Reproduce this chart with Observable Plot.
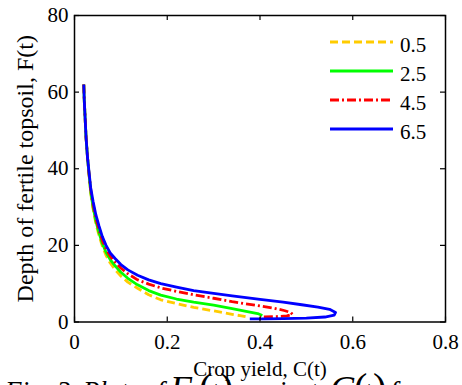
<!DOCTYPE html>
<html>
<head>
<meta charset="utf-8">
<script src="https://cdn.jsdelivr.net/npm/d3@7"></script>
<script src="https://cdn.jsdelivr.net/npm/@observablehq/plot@0.6"></script>
<style>
  html, body { margin: 0; padding: 0; background: white; }
  #wrap { position: relative; width: 462px; height: 385px; overflow: hidden; background: white;
          font-family: "Liberation Serif", "Times New Roman", serif; color: black; }
  #wrap svg.plot { overflow: visible; }
  .leg { position: absolute; font-size: 21px; line-height: 1; }
  .cap { position: absolute; font-style: italic; line-height: 1; white-space: pre; }
</style>
</head>
<body>
<div id="wrap"></div>
<script>
// ---- data ----
const seriesNames = ["0.5", "2.5", "4.5", "6.5"];
const seriesColors = ["#ffcc00", "#00ff00", "#ff0000", "#0000ff"];
const seriesDash = ["8,4", null, "9,3,2,3", null];

const c05 = [0.020,0.021,0.023,0.025,0.028,0.031,0.035,0.040,0.046,0.053,0.060,0.068,0.077,0.088,0.100,0.115,0.136,0.160,0.186,0.220,0.257,0.300,0.340,0.360,0.376];
const f05 = [62,58,53,48,43,39,33.5,29.5,25.8,22.5,19.8,17.4,15.4,13.6,12.0,10.4,8.8,7.1,5.8,4.8,3.8,2.9,2.0,1.6,1.2];

const c25 = [0.020,0.021,0.023,0.025,0.028,0.031,0.035,0.040,0.046,0.053,0.060,0.068,0.077,0.088,0.100,0.115,0.136,0.160,0.186,0.220,0.257,0.300,0.340,0.370,0.395,0.405];
const f25 = [62,58,53,48,43,39,34,30,26.4,23.2,20.5,18.2,16.3,14.6,13.0,11.4,9.7,8.2,7.0,6.0,5.2,4.4,3.5,2.8,2.2,1.7];

const c45 = [0.020,0.021,0.023,0.025,0.028,0.031,0.035,0.040,0.046,0.053,0.060,0.068,0.077,0.088,0.100,0.115,0.136,0.160,0.186,0.220,0.257,0.300,0.340,0.400,0.430,0.452,0.466,0.470,0.458,0.435,0.400];
const f45 = [62,58,53,48,43,39,34.5,30.8,27.2,24,21.3,19,17.2,15.6,14.1,12.6,11.0,9.9,8.9,8.0,7.1,6.2,5.3,4.2,3.6,3.0,2.5,2.0,1.6,1.4,1.3];

const c65 = [0.020,0.021,0.023,0.025,0.028,0.031,0.035,0.040,0.046,0.053,0.060,0.068,0.077,0.088,0.100,0.115,0.136,0.160,0.186,0.220,0.257,0.300,0.340,0.400,0.450,0.490,0.525,0.550,0.563,0.560,0.540,0.500,0.450,0.410,0.378];
const f65 = [62,58,53,48,43,39.5,35,31.5,28,25,22.3,20,18,16.5,15,13.6,12.2,11.0,10.0,9.1,8.2,7.5,6.8,5.9,5.2,4.5,3.9,3.3,2.5,1.8,1.3,1.0,0.9,0.8,0.8];

const xTicks = [0, 0.2, 0.4, 0.6, 0.8];
const xTickLabels = ["0", "0.2", "0.4", "0.6", "0.8"];
const yTicks = [0, 20, 40, 60, 80];
const yTickLabels = ["0", "20", "40", "60", "80"];
const xLabel = "Crop yield, C(t)";
const yLabel = "Depth of fertile topsoil, F(t)";

// ---- build table ----
const allC = [c05, c25, c45, c65];
const allF = [f05, f25, f45, f65];
const series = seriesNames.map((name, k) => allC[k].map((c, i) => ({name, c, f: allF[k][i]})));

const W = 462, H = 370;
const mL = 74, mR = 17, mT = 15, mB = 48.5;
const fw = W - mL - mR, fh = H - mT - mB;
const serif = "'Liberation Serif', 'Times New Roman', serif";

const chart = Plot.plot({
  width: W, height: H,
  marginLeft: mL, marginRight: mR, marginTop: mT, marginBottom: mB,
  x: {domain: [0, 0.8]},
  y: {domain: [0, 80]},
  style: {fontFamily: serif, fontSize: "21px", color: "black", background: "white", overflow: "visible"},
  marks: [
    ...series.map((data, k) => Plot.line(data, {
      x: "c", y: "f", stroke: seriesColors[k], strokeWidth: 2.8,
      strokeDasharray: seriesDash[k], strokeLinejoin: "round", strokeLinecap: "butt"
    })),
    Plot.frame({stroke: "black", strokeWidth: 1.5}),
    Plot.ruleX(xTicks, {x: d => d, insetTop: fh - 5, stroke: "black", strokeWidth: 1.2}),
    Plot.ruleX(xTicks, {x: d => d, insetBottom: fh - 5, stroke: "black", strokeWidth: 1.2}),
    Plot.ruleY(yTicks, {y: d => d, insetRight: fw - 5, stroke: "black", strokeWidth: 1.2}),
    Plot.ruleY(yTicks, {y: d => d, insetLeft: fw - 5, stroke: "black", strokeWidth: 1.2}),
    Plot.axisX(xTicks, {tickSize: 0, tickPadding: 12, tickFormat: d => xTickLabels[xTicks.indexOf(d)], label: null, fontSize: 21, fontFamily: serif}),
    Plot.axisY(yTicks, {tickSize: 0, tickPadding: 6, tickFormat: d => yTickLabels[yTicks.indexOf(d)], label: null, fontSize: 21, fontFamily: serif}),
    Plot.text([xLabel], {text: d => d, frameAnchor: "bottom", dy: 53.5, lineAnchor: "bottom", textAnchor: "middle", fontSize: 21, fontFamily: serif}),
    Plot.text([yLabel], {text: d => d, frameAnchor: "left", dx: -42, rotate: -90, lineAnchor: "bottom", textAnchor: "middle", fontSize: 24, fontFamily: serif})
  ]
});

const wrap = document.getElementById("wrap");
wrap.appendChild(chart);

// ---- legend (HTML overlay, inside the plot frame, top-right) ----
const legRowY = [42, 71, 100, 129];
seriesNames.forEach((name, k) => {
  const ns = "http://www.w3.org/2000/svg";
  const s = document.createElementNS(ns, "svg");
  s.setAttribute("width", 64); s.setAttribute("height", 6);
  s.style.position = "absolute"; s.style.left = "330px"; s.style.top = (legRowY[k] - 3) + "px";
  const ln = document.createElementNS(ns, "line");
  ln.setAttribute("x1", 0); ln.setAttribute("x2", 63); ln.setAttribute("y1", 3); ln.setAttribute("y2", 3);
  ln.setAttribute("stroke", seriesColors[k]); ln.setAttribute("stroke-width", 2.8);
  if (seriesDash[k]) ln.setAttribute("stroke-dasharray", seriesDash[k]);
  s.appendChild(ln);
  wrap.appendChild(s);
  const t = document.createElement("div");
  t.className = "leg"; t.textContent = name;
  t.style.left = "400px"; t.style.top = (legRowY[k] + 3 - 10.5) + "px";
  wrap.appendChild(t);
});

// ---- caption (below the chart, cut by the window edge) ----
const capBase = 401;
const capParts = [
  ["Fig.", 5, 27, true], ["3.", 57, 27, true], ["Plot", 83, 27, true], ["of", 143, 27, true],
  ["F", 170, 36, true], ["(", 199, 40, false], ["t", 211, 27, true], [")", 220, 40, false],
  ["against", 238, 27, true],
  ["C", 330, 36, true], ["(", 354, 40, false], ["t", 364, 27, true], [")", 373, 40, false],
  ["for", 390, 27, true]
];
capParts.forEach(([txt, x, size, ital]) => {
  const d = document.createElement("div");
  d.className = "cap"; d.textContent = txt;
  d.style.fontSize = size + "px";
  d.style.fontStyle = ital ? "italic" : "normal";
  d.style.left = x + "px";
  d.style.top = (capBase - 0.8375 * size) + "px";
  wrap.appendChild(d);
});
</script>
</body>
</html>
